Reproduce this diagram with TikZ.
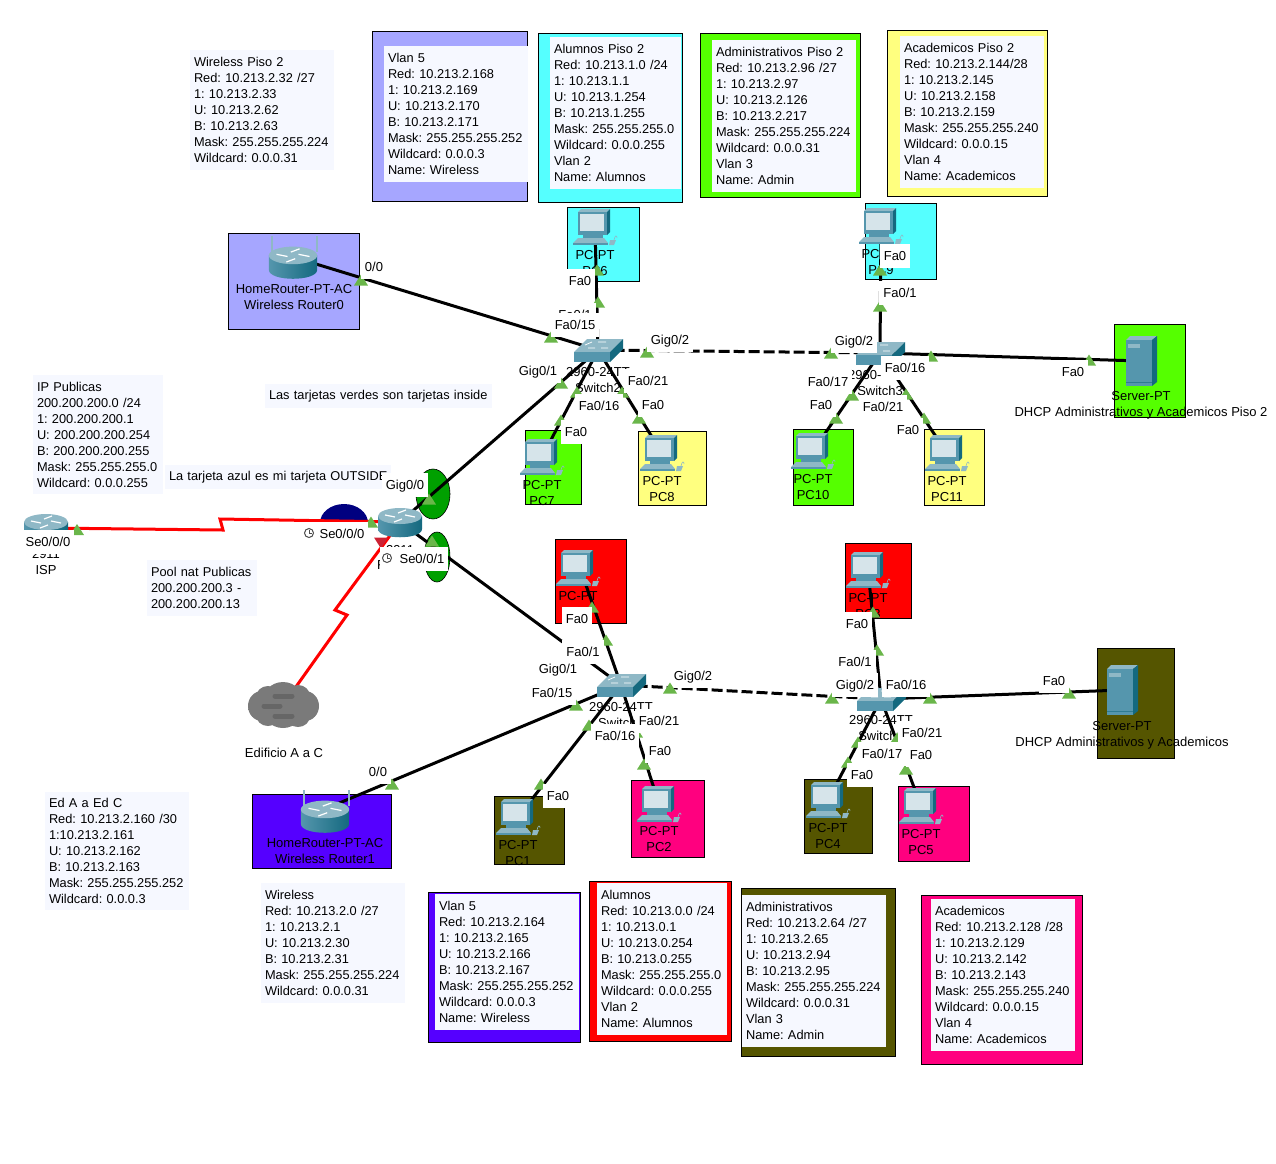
\documentclass[tikz,border=0pt]{standalone}
\usepackage{fontspec}
\setmainfont{Liberation Sans}
\usetikzlibrary{positioning}
\definecolor{lilac}{HTML}{A6A6FF}
\definecolor{aqua}{HTML}{55FFFF}
\definecolor{lime}{HTML}{55FF00}
\definecolor{butter}{HTML}{FFFF7F}
\definecolor{hotpink}{HTML}{FF007F}
\definecolor{olive}{HTML}{555500}
\definecolor{violet}{HTML}{5500FF}
\definecolor{notebg}{HTML}{F6F8FF}
\definecolor{devtop}{HTML}{8FB8C6}
\definecolor{devfront}{HTML}{5596AD}
\definecolor{devside}{HTML}{14697F}
\definecolor{screen}{HTML}{D6E4EA}
\definecolor{portgreen}{HTML}{6AB64A}
\definecolor{portred}{HTML}{CC2233}
\definecolor{piegreen}{HTML}{00A000}
\definecolor{outblue}{HTML}{000080}

\begin{document}
\frenchspacing
\begin{tikzpicture}[
    x=1pt, y=-1pt,
    font=\fontsize{13}{16}\selectfont,
    panel/.style={draw=black, line width=1pt, inner sep=0pt},
    note/.style={fill=notebg, inner xsep=4pt, inner ysep=0pt, align=left, font=\fontsize{12.8}{16}\selectfont},
    spot/.style={inner sep=0pt, minimum size=1pt},
    devlabel/.style={inner sep=0pt, align=center, yshift=-1pt},
    portlabel/.style={fill=white, inner xsep=4pt, inner ysep=0pt, minimum height=24pt, text height=9.5pt, text depth=0pt, yshift=-.5pt},
    link/.style={line width=3pt, draw=black},
    trunk/.style={link, dash pattern=on 11pt off 4pt},
    serial/.style={line width=3pt, draw=red, line join=miter},
    pcicon/.pic={
        \fill[devtop] (-17,-15) -- (-14,-18) -- (15,-18) -- (12,-15) -- cycle;
        \fill[devside] (12,-15) -- (15,-18) -- (15,5) -- (12,8) -- cycle;
        \fill[devfront] (-17,-15) rectangle (12,8);
        \fill[screen] (-15,-13) rectangle (9,4);
        \fill[devfront] (-12,8) rectangle (8,11);
        \fill[devtop] (-17,11) -- (9,11) -- (13,16) -- (-22,16) -- cycle;
        \fill[devfront] (-22,16) rectangle (13,18);
        \fill[devtop] (15,13) -- (21,13) -- (19,18) -- (14,18) -- cycle;
        \draw[devtop, line width=.6pt] (19,13) .. controls (20,8) and (22,8) .. (22,11);
    },
    routericon/.pic={
        \shade[left color=devfront, middle color=white, right color=devside] (-22,-6) -- (-22,7) .. controls (-22,18) and (22,18) .. (22,7) -- (22,-6) -- cycle;
        \fill[devtop] (0,-6) ellipse[x radius=22pt, y radius=8pt];
        \draw[white, line width=1.2pt] (-15,-7) -- (-5,-5) (15,-5) -- (5,-7) (-2,-9) -- (6,-12) (2,-3) -- (-6,0);
    },
    antennas/.pic={
        \draw[devtop, line width=1.2pt] (-21,-26) -- (-21,-10) (24,-26) -- (24,-10);
    },
    switchicon/.pic={
        \fill[devtop] (-24,2) -- (-11,-11) -- (25,-11) -- (12,2) -- cycle;
        \fill[devfront] (-24,2) rectangle (12,12);
        \fill[devside] (12,2) -- (25,-11) -- (25,-1) -- (12,12) -- cycle;
        \draw[white, line width=.7pt] (-10,-2) -- (-3,-2) (0,-8) -- (8,-8) (3,-2) -- (10,-2) (-6,-8) -- (-13,-5);
    },
    servericon/.pic={
        \fill[devtop] (-15,-21) -- (-11,-25) -- (16,-25) -- (11,-21) -- cycle;
        \fill[devside] (11,-21) -- (16,-25) -- (16,21) -- (11,25) -- cycle;
        \fill[devfront] (-15,-21) rectangle (11,25);
        \fill[devtop] (-13,-17) rectangle (-1,-13);
        \draw[devside!60!devfront, line width=.8pt] (-15,21) -- (11,21);
    },
    clockmark/.pic={
        \draw[black!70, line width=1pt, fill=white] (0,0) circle[radius=4.5pt];
        \draw[black!70, line width=.8pt] (0,-3) -- (0,0) -- (3,0);
    },
    tipgreen/.pic={\fill[portgreen] (-7,5.5) -- (7,5.5) -- (0,-5.5) -- cycle;},
    tipred/.pic={\fill[portred] (-7,-5.5) -- (7,-5.5) -- (0,5.5) -- cycle;}
]
\useasboundingbox (0,0) rectangle (1276,1163);

% device backgrounds
\node[panel, fill=lilac, minimum width=131pt, minimum height=96pt] (routerzeropanel) at (293.5,281) {};
\node[panel, fill=violet, minimum width=139pt, minimum height=74pt] (routeronepanel) at (321.5,831) {};
\node[panel, fill=aqua, minimum width=72pt, minimum height=74pt] (pc6panel) at (603,244) {};
\node[panel, fill=aqua, minimum width=71pt, minimum height=76pt] (pc9panel) at (900.5,241) {};
\node[panel, fill=lime, minimum width=56pt, minimum height=74pt] (pc7panel) at (553,467) {};
\node[panel, fill=butter, minimum width=68pt, minimum height=74pt] (pc8panel) at (672,468) {};
\node[panel, fill=lime, minimum width=60pt, minimum height=76pt] (pc10panel) at (823,467) {};
\node[panel, fill=butter, minimum width=60pt, minimum height=76pt] (pc11panel) at (954,467) {};
\node[panel, fill=lime, minimum width=71pt, minimum height=93pt] (serverapanel) at (1149.5,370.5) {};
\node[panel, fill=red, minimum width=71pt, minimum height=84pt] (pc0panel) at (590.5,581) {};
\node[panel, fill=red, minimum width=66pt, minimum height=75pt] (pc3panel) at (878,580.5) {};
\node[panel, fill=olive, minimum width=70pt, minimum height=68pt] (pc1panel) at (529,830) {};
\node[panel, fill=hotpink, minimum width=73pt, minimum height=77pt] (pc2panel) at (667.5,818.5) {};
\node[panel, fill=olive, minimum width=68pt, minimum height=74pt] (pc4panel) at (838,816) {};
\node[panel, fill=hotpink, minimum width=71pt, minimum height=75pt] (pc5panel) at (933.5,823.5) {};
\node[panel, fill=olive, minimum width=77pt, minimum height=110pt] (serverbpanel) at (1135.5,703) {};

% address tables, top row
\node[note, text width=136pt, minimum height=120pt] (wirelessnotea) at (262,110) {Wireless Piso 2\\Red: 10.213.2.32 /27\\1: 10.213.2.33\\U: 10.213.2.62\\B: 10.213.2.63\\Mask: 255.255.255.224\\Wildcard: 0.0.0.31};
\node[panel, fill=lilac, minimum width=155pt, minimum height=170pt] (vlanapanel) at (450,116.5) {};
\node[note, text width=136pt, minimum height=136pt] (vlananote) at (456,114) {Vlan 5\\Red: 10.213.2.168\\1: 10.213.2.169\\U: 10.213.2.170\\B: 10.213.2.171\\Mask: 255.255.255.252\\Wildcard: 0.0.0.3\\Name: Wireless};
\node[panel, fill=aqua, minimum width=144pt, minimum height=169pt] (alumnosapanel) at (610.5,117.5) {};
\node[note, text width=123pt, minimum height=152pt] (alumnosanote) at (615.5,113) {Alumnos Piso 2\\Red: 10.213.1.0 /24\\1: 10.213.1.1\\U: 10.213.1.254\\B: 10.213.1.255\\Mask: 255.255.255.0\\Wildcard: 0.0.0.255\\Vlan 2\\Name: Alumnos};
\node[panel, line width=1pt, fill=lime, minimum width=160pt, minimum height=164pt] (adminapanel) at (780,115) {};
\node[note, text width=136pt, minimum height=152pt] (adminanote) at (784,116) {Administrativos Piso 2\\Red: 10.213.2.96 /27\\1: 10.213.2.97\\U: 10.213.2.126\\B: 10.213.2.217\\Mask: 255.255.255.224\\Wildcard: 0.0.0.31\\Vlan 3\\Name: Admin};
\node[panel, fill=butter, minimum width=160pt, minimum height=166pt] (academapanel) at (967,113.5) {};
\node[note, text width=136pt, minimum height=152pt] (academanote) at (972,112) {Academicos Piso 2\\Red: 10.213.2.144/28\\1: 10.213.2.145\\U: 10.213.2.158\\B: 10.213.2.159\\Mask: 255.255.255.240\\Wildcard: 0.0.0.15\\Vlan 4\\Name: Academicos};

% loose notes
\node[note, text width=219pt, minimum height=24pt] (insidenote) at (378.5,396) {\mbox{Las tarjetas verdes son tarjetas inside}};
\node[note, text width=122pt, minimum height=119pt] (publicnote) at (98,434.5) {IP Publicas\\200.200.200.0 /24\\1: 200.200.200.1\\U: 200.200.200.254\\B: 200.200.200.255\\Mask: 255.255.255.0\\Wildcard: 0.0.0.255};
\node[note, text width=218pt, minimum height=24pt] (outsidenote) at (278,477) {\mbox{La tarjeta azul es mi tarjeta OUTSIDE}};
\node[note, text width=102pt, minimum height=56pt] (poolnote) at (202,588) {Pool nat Publicas\\200.200.200.3 -\\200.200.200.13};
\node[note, text width=136pt, minimum height=118pt] (edificionote) at (117,851) {Ed A a Ed C\\Red: 10.213.2.160 /30\\1:10.213.2.161\\U: 10.213.2.162\\B: 10.213.2.163\\Mask: 255.255.255.252\\Wildcard: 0.0.0.3};

% address tables, bottom row
\node[note, text width=136pt, minimum height=120pt] (wirelessnoteb) at (333,943) {Wireless\\Red: 10.213.2.0 /27\\1: 10.213.2.1\\U: 10.213.2.30\\B: 10.213.2.31\\Mask: 255.255.255.224\\Wildcard: 0.0.0.31};
\node[panel, fill=violet, minimum width=152pt, minimum height=150pt] (vlanbpanel) at (504.5,967) {};
\node[note, text width=136pt, minimum height=136pt] (vlanbnote) at (507,962) {Vlan 5\\Red: 10.213.2.164\\1: 10.213.2.165\\U: 10.213.2.166\\B: 10.213.2.167\\Mask: 255.255.255.252\\Wildcard: 0.0.0.3\\Name: Wireless};
\node[panel, fill=red, minimum width=142pt, minimum height=160pt] (alumnosbpanel) at (660.5,961) {};
\node[note, text width=122pt, minimum height=152pt] (alumnosbnote) at (662,959) {Alumnos\\Red: 10.213.0.0 /24\\1: 10.213.0.1\\U: 10.213.0.254\\B: 10.213.0.255\\Mask: 255.255.255.0\\Wildcard: 0.0.0.255\\Vlan 2\\Name: Alumnos};
\node[panel, fill=olive, minimum width=154pt, minimum height=168pt] (adminbpanel) at (818,972) {};
\node[note, text width=136pt, minimum height=152pt] (adminbnote) at (814,971) {Administrativos\\Red: 10.213.2.64 /27\\1: 10.213.2.65\\U: 10.213.2.94\\B: 10.213.2.95\\Mask: 255.255.255.224\\Wildcard: 0.0.0.31\\Vlan 3\\Name: Admin};
\node[panel, fill=hotpink, minimum width=161pt, minimum height=169pt] (academbpanel) at (1001.5,979.5) {};
\node[note, text width=136pt, minimum height=152pt] (academbnote) at (1003,975) {Academicos\\Red: 10.213.2.128 /28\\1: 10.213.2.129\\U: 10.213.2.142\\B: 10.213.2.143\\Mask: 255.255.255.240\\Wildcard: 0.0.0.15\\Vlan 4\\Name: Academicos};

% interface ellipses
\draw[fill=piegreen, line width=.6pt] (433,494) ellipse[x radius=17pt, y radius=25pt];
\draw[fill=piegreen, line width=.6pt] (437,557) ellipse[x radius=13pt, y radius=25pt];
\fill[outblue] (344,523) ellipse[x radius=24pt, y radius=19pt];

% device anchors
\node[spot] (routerzero) at (293,257) {};
\node[spot] (routerone) at (325,809) {};
\node[spot] (edge) at (400,522) {};
\node[spot] (isp) at (46,528) {};
\node[spot] (cloudab) at (283,705) {};
\node[spot] (swtwo) at (598,350) {};
\node[spot] (swthree) at (880,353) {};
\node[spot] (swzero) at (621,685) {};
\node[spot] (swone) at (881,699) {};
\node[spot] (pc6) at (595,227) {};
\node[spot] (pc9) at (881,226) {};
\node[spot] (pc7) at (542,457) {};
\node[spot] (pc8) at (662,453) {};
\node[spot] (pc10) at (813,451) {};
\node[spot] (pc11) at (947,453) {};
\node[spot] (pc0) at (580,568) {};
\node[spot] (pc3) at (868,570) {};
\node[spot] (pc1) at (518,817) {};
\node[spot] (pc2) at (659,804) {};
\node[spot] (pc4) at (828,800) {};
\node[spot] (pc5) at (921,806) {};
\node[spot] (servera) at (1141,361) {};
\node[spot] (serverb) at (1122,690) {};
\coordinate (ispkinka) at (223,530);
\coordinate (ispkinkb) at (220,519);
\coordinate (cloudkinka) at (347,615);
\coordinate (cloudkinkb) at (335,610);

% links
\draw[link] (routerzero) -- (swtwo);
\draw[link] (swtwo) -- (pc6);
\draw[link] (swtwo) -- (pc7);
\draw[link] (swtwo) -- (pc8);
\draw[link] (swtwo) -- (edge);
\draw[trunk] (swtwo) -- (swthree);
\draw[link] (swthree) -- (pc9);
\draw[link] (swthree) -- (pc10);
\draw[link] (swthree) -- (pc11);
\draw[link] (swthree) -- (servera);
\draw[link] (edge) -- (swzero);
\draw[link] (swzero) -- (pc0);
\draw[link] (swzero) -- (pc1);
\draw[link] (swzero) -- (pc2);
\draw[link] (swzero) -- (routerone);
\draw[trunk] (swzero) -- (swone);
\draw[link] (swone) -- (pc3);
\draw[link] (swone) -- (pc4);
\draw[link] (swone) -- (pc5);
\draw[link] (swone) -- (serverb);
\draw[serial] (isp) -- (ispkinka) -- (ispkinkb) -- (edge);
\draw[serial] (cloudab) -- (cloudkinka) -- (cloudkinkb) -- (edge);

% icons
\pic[scale=1.1] at (293,262) {routericon};
\pic at (293,262) {antennas};
\pic[scale=1.1] at (325,816) {routericon};
\pic at (325,816) {antennas};
\pic at (edge) {routericon};
\pic at (isp) {routericon};
\pic at (swtwo) {switchicon};
\pic at (swthree) {switchicon};
\pic at (swzero) {switchicon};
\pic at (swone) {switchicon};
\pic at (pc6) {pcicon};
\pic at (pc9) {pcicon};
\pic at (pc7) {pcicon};
\pic at (pc8) {pcicon};
\pic at (pc10) {pcicon};
\pic at (pc11) {pcicon};
\pic at (578,568) {pcicon};
\pic at (pc3) {pcicon};
\pic at (pc1) {pcicon};
\pic at (pc2) {pcicon};
\pic at (pc4) {pcicon};
\pic at (pc5) {pcicon};
\pic at (servera) {servericon};
\pic at (serverb) {servericon};
\shade[left color=black!52, middle color=black!28, right color=black!52]
    (283,705) ellipse[x radius=22pt, y radius=23pt]
    (262,706) ellipse[x radius=14pt, y radius=15pt]
    (305,706) ellipse[x radius=14pt, y radius=15pt]
    (268,697) ellipse[x radius=12pt, y radius=11pt]
    (298,696) ellipse[x radius=12pt, y radius=11pt]
    (268,715) ellipse[x radius=12pt, y radius=11pt]
    (298,716) ellipse[x radius=12pt, y radius=11pt];
\draw[black!60, line width=5pt, line cap=round] (275,696) -- (292,696) (264,706) -- (280,706) (275,716) -- (292,716);

% device names
\node[devlabel] (routerzeroname) at (294,296) {HomeRouter-PT-AC\\Wireless Router0};
\node[devlabel] (routeronename) at (325,850) {HomeRouter-PT-AC\\Wireless Router1};
\node[devlabel] (ispname) at (46,561) {2911\\ISP};
\node[devlabel] (edgename) at (400,549) {2911};
\node[devlabel, anchor=west] (edgeinitial) at (377,564) {R};
\node[devlabel] (cloudname) at (284,752) {Edificio A a C};
\node[devlabel] (swtwoname) at (598,379) {2960-24TT\\Switch2};
\node[devlabel] (swthreename) at (880,382) {2960-24TT\\Switch3};
\node[devlabel] (swzeroname) at (621,714) {2960-24TT\\Switch0};
\node[devlabel] (swonename) at (881,727) {2960-24TT\\Switch1};
\node[devlabel] (pc6name) at (595,262) {PC-PT\\PC6};
\node[devlabel] (pc9name) at (881,261) {PC-PT\\PC9};
\node[devlabel] (pc7name) at (542,492) {PC-PT\\PC7};
\node[devlabel] (pc8name) at (662,488) {PC-PT\\PC8};
\node[devlabel] (pc10name) at (813,486) {PC-PT\\PC10};
\node[devlabel] (pc11name) at (947,488) {PC-PT\\PC11};
\node[devlabel] (pc0name) at (578,603) {PC-PT\\PC0};
\node[devlabel] (pc3name) at (868,605) {PC-PT\\PC3};
\node[devlabel] (pc1name) at (518,852) {PC-PT\\PC1};
\node[devlabel] (pc2name) at (659,838) {PC-PT\\PC2};
\node[devlabel] (pc4name) at (828,835) {PC-PT\\PC4};
\node[devlabel] (pc5name) at (921,841) {PC-PT\\PC5};
\node[devlabel] (servername) at (1141,404) {Server-PT\\DHCP Administrativos y Academicos Piso 2};
\node[devlabel] (serverbname) at (1122,734) {Server-PT\\DHCP Administrativos y Academicos};

% port markers
\pic at (361,280) {tipgreen};
\pic at (551,337) {tipgreen};
\pic at (597,270) {tipgreen};
\pic at (598,302) {tipgreen};
\pic at (647,352) {tipgreen};
\pic at (561,383) {tipgreen};
\pic at (577,392) {tipgreen};
\pic at (561,420) {tipgreen};
\pic at (622,392) {tipgreen};
\pic at (639,418) {tipgreen};
\pic at (429,499) {tipgreen};
\pic at (831,353) {tipgreen};
\pic at (880,306) {tipgreen};
\pic at (880,270) {tipgreen};
\pic at (931,356) {tipgreen};
\pic at (1089,360) {tipgreen};
\pic at (852,395) {tipgreen};
\pic at (836,418) {tipgreen};
\pic at (906,394) {tipgreen};
\pic at (924,418) {tipgreen};
\pic at (77,529.5) {tipgreen};
\pic at (371,522) {tipgreen};
\pic at (381,543) {tipred};
\pic at (432,541) {tipgreen};
\pic at (592,607) {tipgreen};
\pic at (606,640) {tipgreen};
\pic at (576,705) {tipgreen};
\pic at (392,784) {tipgreen};
\pic at (589,725) {tipgreen};
\pic at (541,784) {tipgreen};
\pic at (644,764) {tipgreen};
\pic at (636,732) {tipgreen};
\pic at (832,698) {tipgreen};
\pic at (930,698) {tipgreen};
\pic at (1069,693) {tipgreen};
\pic at (873,612) {tipgreen};
\pic at (877,650) {tipgreen};
\pic at (858,742) {tipgreen};
\pic at (848,762) {tipgreen};
\pic at (906,769) {tipgreen};
\pic at (897,738) {tipgreen};

% port labels
\node[portlabel] (rzport) at (374,266) {0/0};
\node[portlabel] (pc6port) at (580,280) {Fa0};
\node[portlabel] (stwotop) at (575,314) {Fa0/1};
\node[portlabel] (stworouter) at (575,324) {Fa0/15};
\node[portlabel] (stwotrunk) at (670,339) {Gig0/2};
\node[portlabel] (stwoedge) at (538,370) {Gig0/1};
\node[portlabel] (stwoyellow) at (648,380) {Fa0/21};
\node[portlabel] (stwogreen) at (599,405) {Fa0/16};
\node[portlabel] (pc8port) at (653,404) {Fa0};
\node[portlabel] (pc7port) at (576,431) {Fa0};
\node[portlabel] (edgegig) at (405,484) {Gig0/0};
\node[portlabel] (ispport) at (48,541) {Se0/0/0};
\node[portlabel] (edgesera) at (334,533) {\hspace{16pt}Se0/0/0};
\node[portlabel] (edgeserb) at (414,558) {\hspace{16pt}Se0/0/1};
\node[portlabel] (sthreetrunk) at (854,340) {Gig0/2};
\node[portlabel] (pc9port) at (895,255) {Fa0};
\node[portlabel] (sthreetop) at (900,292) {Fa0/1};
\node[portlabel] (sthreeserver) at (905,367) {Fa0/16};
\node[portlabel] (serveraport) at (1073,371) {Fa0};
\node[portlabel] (sthreegreen) at (828,381) {Fa0/17};
\node[portlabel] (pc10port) at (821,404) {Fa0};
\node[portlabel] (sthreeyellow) at (883,406) {Fa0/21};
\node[portlabel] (pc11port) at (908,429) {Fa0};
\node[portlabel] (pc0port) at (577,618) {Fa0};
\node[portlabel] (szerotop) at (583,651) {Fa0/1};
\node[portlabel] (szeroedge) at (558,668) {Gig0/1};
\node[portlabel] (szerorouter) at (552,692) {Fa0/15};
\node[portlabel] (roport) at (378,771) {0/0};
\node[portlabel] (pc1port) at (558,795) {Fa0};
\node[portlabel] (szeropink) at (659,720) {Fa0/21};
\node[portlabel] (szeroolive) at (615,735) {Fa0/16};
\node[portlabel] (pc2port) at (660,750) {Fa0};
\node[portlabel] (szerotrunk) at (693,675) {Gig0/2};
\node[portlabel] (pc3port) at (857,623) {Fa0};
\node[portlabel] (sonetop) at (855,661) {Fa0/1};
\node[portlabel] (sonetrunk) at (855,684) {Gig0/2};
\node[portlabel] (soneserver) at (906,684) {Fa0/16};
\node[portlabel] (sonepink) at (922,732) {Fa0/21};
\node[portlabel] (soneolive) at (882,753) {Fa0/17};
\node[portlabel] (pc5port) at (921,754) {Fa0};
\node[portlabel] (pc4port) at (862,774) {Fa0};
\node[portlabel] (serverbport) at (1054,680) {Fa0};
\pic at (670,688) {tipgreen};
\pic at (309,533) {clockmark};
\pic at (387,558) {clockmark};
\end{tikzpicture}
\end{document}
